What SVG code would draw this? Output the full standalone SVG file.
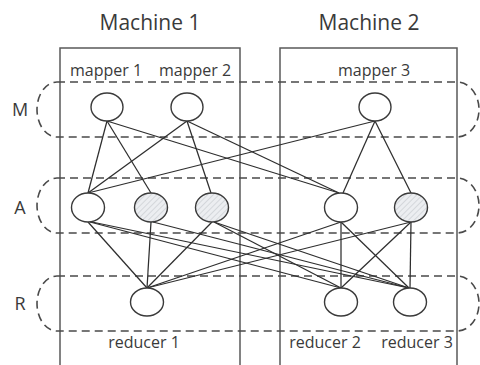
<svg xmlns="http://www.w3.org/2000/svg" width="480" height="365" viewBox="0 0 480 365">
  <defs>
    <pattern id="hatch" patternUnits="userSpaceOnUse" width="4" height="4" patternTransform="rotate(45)">
      <rect width="4" height="4" fill="#eceef1"/>
      <line x1="0" y1="0" x2="0" y2="4" stroke="#c4c8cd" stroke-width="1.2"/>
    </pattern>
    <style>
      .machine { fill: none; stroke: #5a5a5a; stroke-width: 1.5; }
      .band { fill: none; stroke: #4a4a4a; stroke-width: 1.6; stroke-dasharray: 8 5; }
      .node { fill: #ffffff; stroke: #3a3a3a; stroke-width: 1.4; }
      .node.shaded { fill: url(#hatch); }
      .edge { stroke: #2e2e2e; stroke-width: 1.25; fill: none; }
      .title { font-family: "Open Sans", "Liberation Sans", sans-serif; font-size: 21px; fill: #3a3a3a; text-anchor: middle; }
      .label { font-family: "Open Sans", "Liberation Sans", sans-serif; font-size: 16px; fill: #3a3a3a; text-anchor: middle; }
      .phase { font-family: "Open Sans", "Liberation Sans", sans-serif; font-size: 18px; fill: #3a3a3a; text-anchor: middle; }
    </style>
  </defs>
  <rect width="480" height="365" fill="#ffffff"/>

  <!-- machine boundaries -->
  <g id="machine1">
    <path class="machine" d="M60,366 V48 H240 V366"/>
    <text class="title" x="150" y="30">Machine 1</text>
  </g>
  <g id="machine2">
    <path class="machine" d="M280,366 V48 H457 V366"/>
    <text class="title" x="369" y="30">Machine 2</text>
  </g>

  <!-- phase bands -->
  <g id="band-M">
    <path class="band" d="M57,82 H457 A22,27.5 0 0 1 457,137 H57 A20,27.5 0 0 1 57,82 Z"/>
    <text class="phase" x="20" y="116">M</text>
  </g>
  <g id="band-A">
    <path class="band" d="M57,178 H457 A22,27.5 0 0 1 457,233 H57 A20,27.5 0 0 1 57,178 Z"/>
    <text class="phase" x="20" y="214">A</text>
  </g>
  <g id="band-R">
    <path class="band" d="M57,276 H457 A22,27.5 0 0 1 457,331 H57 A20,27.5 0 0 1 57,276 Z"/>
    <text class="phase" x="20" y="310">R</text>
  </g>

  <!-- connectors -->
  <g id="connectors">
    <!-- mappers to aggregators -->
    <line class="edge" x1="107" y1="121" x2="88" y2="193"/>
    <line class="edge" x1="107" y1="121" x2="151" y2="193"/>
    <line class="edge" x1="107" y1="121" x2="339" y2="193"/>
    <line class="edge" x1="187" y1="121" x2="88" y2="193"/>
    <line class="edge" x1="187" y1="121" x2="211" y2="193"/>
    <line class="edge" x1="187" y1="121" x2="339" y2="193"/>
    <line class="edge" x1="375" y1="121" x2="88" y2="193"/>
    <line class="edge" x1="375" y1="121" x2="343" y2="193"/>
    <line class="edge" x1="375" y1="121" x2="411" y2="193"/>
    <!-- aggregators to reducers -->
    <line class="edge" x1="88" y1="222" x2="147" y2="288"/>
    <line class="edge" x1="151" y1="222" x2="147" y2="288"/>
    <line class="edge" x1="212" y1="222" x2="147" y2="288"/>
    <line class="edge" x1="341" y1="222" x2="147" y2="288"/>
    <line class="edge" x1="411" y1="222" x2="147" y2="288"/>
    <line class="edge" x1="90" y1="222" x2="341" y2="288"/>
    <line class="edge" x1="92" y1="222" x2="409" y2="288"/>
    <line class="edge" x1="153" y1="222" x2="409" y2="288"/>
    <line class="edge" x1="214" y1="222" x2="341" y2="288"/>
    <line class="edge" x1="214" y1="222" x2="409" y2="288"/>
    <line class="edge" x1="341" y1="222" x2="341" y2="288"/>
    <line class="edge" x1="341" y1="222" x2="409" y2="288"/>
    <line class="edge" x1="411" y1="222" x2="341" y2="288"/>
    <line class="edge" x1="411" y1="222" x2="410" y2="288"/>
  </g>

  <!-- mappers -->
  <g id="mapper1">
    <ellipse class="node" cx="107" cy="107" rx="16" ry="14"/>
    <text class="label" x="106" y="76">mapper 1</text>
  </g>
  <g id="mapper2">
    <ellipse class="node" cx="187" cy="107" rx="16" ry="14"/>
    <text class="label" x="195" y="76">mapper 2</text>
  </g>
  <g id="mapper3">
    <ellipse class="node" cx="375" cy="107" rx="16" ry="14"/>
    <text class="label" x="374" y="76">mapper 3</text>
  </g>

  <!-- aggregators -->
  <g id="agg1"><ellipse class="node" cx="88" cy="207.5" rx="16.5" ry="14.5"/></g>
  <g id="agg2"><ellipse class="node shaded" cx="151" cy="207.5" rx="16.5" ry="14.5"/></g>
  <g id="agg3"><ellipse class="node shaded" cx="212" cy="207.5" rx="16.5" ry="14.5"/></g>
  <g id="agg4"><ellipse class="node" cx="341" cy="207.5" rx="16.5" ry="14.5"/></g>
  <g id="agg5"><ellipse class="node shaded" cx="411" cy="207.5" rx="16.5" ry="14.5"/></g>

  <!-- reducers -->
  <g id="reducer1">
    <ellipse class="node" cx="147" cy="302" rx="16.5" ry="14"/>
    <text class="label" x="144" y="348">reducer 1</text>
  </g>
  <g id="reducer2">
    <ellipse class="node" cx="341" cy="302" rx="16.5" ry="14"/>
    <text class="label" x="325" y="348">reducer 2</text>
  </g>
  <g id="reducer3">
    <ellipse class="node" cx="410" cy="302" rx="16.5" ry="14"/>
    <text class="label" x="417" y="348">reducer 3</text>
  </g>
</svg>
